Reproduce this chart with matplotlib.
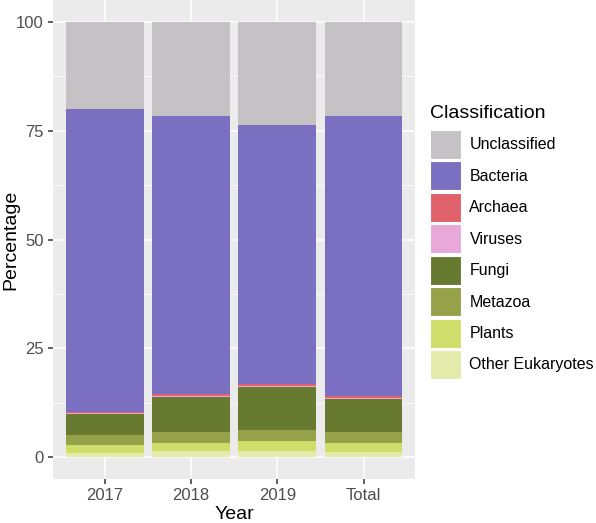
import matplotlib
matplotlib.use('Agg')
import matplotlib.pyplot as plt
from matplotlib.patches import Patch
import numpy as np

plt.rcParams['font.family'] = ['Liberation Sans', 'DejaVu Sans']

years = ['2017', '2018', '2019', 'Total']
# stacked from bottom to top
classes = ['Other Eukaryotes', 'Plants', 'Metazoa', 'Fungi',
           'Viruses', 'Archaea', 'Bacteria', 'Unclassified']
other_euk = [1.05, 1.4, 1.5, 1.3]
plants = [1.7, 1.8, 2.15, 1.9]
metazoa = [2.25, 2.6, 2.6, 2.5]
fungi = [4.9, 8.1, 9.8, 7.6]
viruses = [0.2, 0.15, 0.3, 0.25]
archaea = [0.4, 0.45, 0.55, 0.5]
bacteria = [69.5, 63.9, 59.5, 64.35]
unclassified = [20.0, 21.6, 23.6, 21.6]
colors = ['#E3EAAA', '#CFDE6A', '#95A24A', '#687A30',
          '#E8A8D8', '#E0626B', '#7B6FC2', '#C4C2C4']

series = [other_euk, plants, metazoa, fungi, viruses, archaea, bacteria, unclassified]

fig = plt.figure(figsize=(5.96, 5.23), dpi=100)
ax = fig.add_axes([0.0888, 0.0841, 0.6082, 0.9159])
ax.set_facecolor('#EBEBEB')

x = np.arange(len(years))
bottom = np.zeros(len(years))
for vals, col in zip(series, colors):
    ax.bar(x, vals, bottom=bottom, width=0.9, color=col, linewidth=0, zorder=3)
    bottom += np.array(vals)

ax.set_xlim(-0.6, len(years) - 0.4)
ax.set_ylim(-5, 105)
ax.set_yticks([0, 25, 50, 75, 100])
ax.set_yticks([12.5, 37.5, 62.5, 87.5], minor=True)
ax.set_xticks(x)
ax.set_xticklabels(years)
ax.grid(which='major', color='white', linewidth=1.1, zorder=0)
ax.grid(which='minor', axis='y', color='white', linewidth=0.55, zorder=0)
ax.set_axisbelow(True)
ax.tick_params(which='major', length=3.5, width=1.1, color='#333333',
               labelsize=12, labelcolor='#4D4D4D', pad=3)
ax.tick_params(which='minor', length=0)
for s in ax.spines.values():
    s.set_visible(False)
ax.set_xlabel('Year', fontsize=14, labelpad=2)
ax.set_ylabel('Percentage', fontsize=14)
ax.yaxis.set_label_coords(-0.093, 0.5)

handles = [Patch(facecolor=c, edgecolor='white', linewidth=0.8) for c in colors[::-1]]
leg = fig.legend(handles, classes[::-1], title='Classification',
                 loc='upper left', bbox_to_anchor=(0.722, 0.8),
                 frameon=False, fontsize=11.5, title_fontsize=14,
                 handlelength=1.9, handleheight=2.42, labelspacing=0.15,
                 handletextpad=0.55, borderaxespad=0, borderpad=0)
leg._legend_box.align = 'left'
leg._legend_box.sep = 6

fig.savefig('out.png', dpi=100)
